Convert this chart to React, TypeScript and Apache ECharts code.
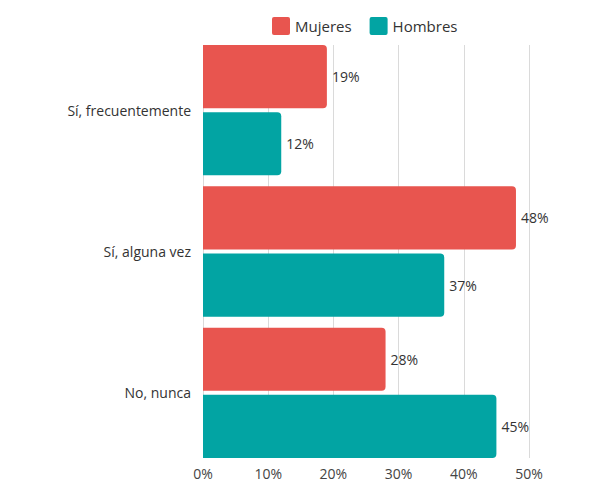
import React, { useEffect, useRef } from "react";
import * as echarts from "echarts";

const categories = ["Sí, frecuentemente", "Sí, alguna vez", "No, nunca"];
const mujeres = [19, 48, 28];
const hombres = [12, 37, 45];
const xTicks = [0, 10, 20, 30, 40, 50];

const RED = "#E8554F";
const TEAL = "#02A4A3";
const FONT = "'Open Sans', sans-serif";
const ICON =
  "path://M2,0 H16 A2,2 0 0 1 18,2 V16 A2,2 0 0 1 16,18 H2 A2,2 0 0 1 0,16 V2 A2,2 0 0 1 2,0 Z";

export default function App() {
  const ref = useRef<HTMLDivElement>(null);
  useEffect(() => {
    if (!ref.current) return;
    const chart = echarts.init(ref.current, null, { renderer: "svg" });
    const label = {
      show: true,
      position: "right",
      distance: 5,
      formatter: (p: any) => p.value + "%",
      color: "#333",
      fontSize: 14,
      fontFamily: FONT,
    };
    chart.setOption({
      animation: false,
      textStyle: { fontFamily: FONT },
      legend: {
        top: 12,
        left: 267,
        padding: 5,
        itemWidth: 18,
        itemHeight: 18,
        itemGap: 18,
        icon: ICON,
        textStyle: { fontSize: 15, color: "#333", fontFamily: FONT },
        data: ["Mujeres", "Hombres"],
      },
      grid: [
        { left: 203, right: 71, top: 39.5, bottom: 25.5 },
        { left: 203, right: 71, top: 45, bottom: 31 },
      ],
      xAxis: [
        {
          gridIndex: 0,
          type: "value",
          min: 0,
          max: 50,
          interval: 10,
          show: false,
        },
        {
          gridIndex: 1,
          type: "value",
          min: xTicks[0],
          max: xTicks[xTicks.length - 1],
          interval: 10,
          axisLine: { show: false },
          axisTick: { show: false },
          splitLine: { show: true, lineStyle: { color: "#DADADA", width: 1 } },
          axisLabel: {
            formatter: (v: number) => v + "%",
            color: "#444",
            fontSize: 14,
            fontFamily: FONT,
            margin: 8,
          },
        },
      ],
      yAxis: [
        {
          gridIndex: 0,
          type: "category",
          data: categories,
          inverse: true,
          axisLine: { show: false },
          axisTick: { show: false },
          axisLabel: {
            color: "#333",
            fontSize: 14,
            fontFamily: FONT,
            margin: 12,
          },
        },
        {
          gridIndex: 1,
          type: "category",
          data: categories,
          show: false,
        },
      ],
      series: [
        {
          name: "Mujeres",
          type: "bar",
          xAxisIndex: 0,
          yAxisIndex: 0,
          data: mujeres,
          barGap: "6.3%",
          barCategoryGap: "7.8%",
          itemStyle: { color: RED, borderRadius: [0, 4, 4, 0] },
          label,
        },
        {
          name: "Hombres",
          type: "bar",
          xAxisIndex: 0,
          yAxisIndex: 0,
          data: hombres,
          barGap: "6.3%",
          barCategoryGap: "7.8%",
          itemStyle: { color: TEAL, borderRadius: [0, 4, 4, 0] },
          label,
        },
      ],
    });
    return () => chart.dispose();
  }, []);
  return <div ref={ref} style={{ width: 600, height: 489, position: "absolute", left: 0, top: 0 }} />;
}
